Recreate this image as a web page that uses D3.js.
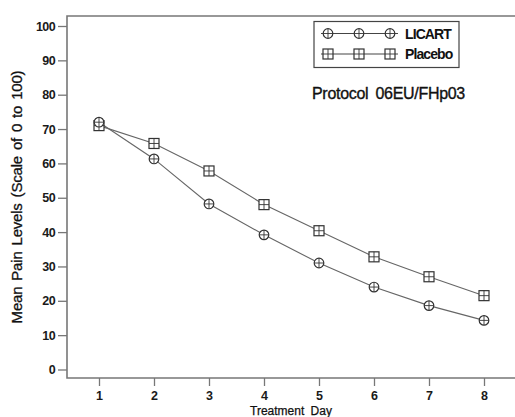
<!DOCTYPE html>
<html>
<head>
<meta charset="utf-8">
<script src="https://cdn.jsdelivr.net/npm/d3@7"></script>
<style>
  body { margin: 0; background: #fff; }
  svg { display: block; font-family: "Liberation Sans", Arial, sans-serif; }
</style>
</head>
<body>
<div class="pain-chart"></div>
<script>
// mean pain levels by treatment day
const days = [1, 2, 3, 4, 5, 6, 7, 8];
const licart = [72, 61.3, 48.2, 39.2, 31.0, 24.0, 18.6, 14.3];
const placebo = [71, 65.8, 57.8, 48.0, 40.4, 32.8, 27.0, 21.5];
const yTicks = [0, 10, 20, 30, 40, 50, 60, 70, 80, 90, 100];

const width = 515;
const height = 417;
const svg = d3.select('.pain-chart')
    .append('svg')
    .attr('width', width)
    .attr('height', height);

const x = d3.scaleLinear().domain([1, 8]).range([99, 484]);
const y = d3.scaleLinear().domain([0, 100]).range([369.5, 26]);

const axisColor = '#777';

// y axis
const yAxis = svg.append('g')
    .attr('transform', 'translate(67,0)')
    .call(d3.axisLeft(y).tickValues(yTicks).tickSize(9).tickPadding(3));
yAxis.select('.domain').remove();
yAxis.selectAll('line').attr('stroke', axisColor).attr('stroke-width', 1.3);
yAxis.selectAll('text')
    .attr('font-size', 12.5)
    .attr('font-weight', 'bold')
    .attr('letter-spacing', -0.6)
    .attr('fill', '#1a1a1a')
    .attr('font-family', '"Liberation Sans", Arial, sans-serif');

// x axis
const xAxis = svg.append('g')
    .attr('transform', 'translate(0,378)')
    .call(d3.axisBottom(x).tickValues(days).tickFormat(d3.format('d')).tickSize(8).tickPadding(5));
xAxis.select('.domain').remove();
xAxis.selectAll('line').attr('stroke', axisColor).attr('stroke-width', 1.3);
xAxis.selectAll('text')
    .attr('font-size', 12.5)
    .attr('font-weight', 'bold')
    .attr('fill', '#1a1a1a')
    .attr('font-family', '"Liberation Sans", Arial, sans-serif');

// frame: left, top, bottom (right side runs off the picture)
svg.append('path')
    .attr('d', 'M515,16 H67 V378 H515')
    .attr('fill', 'none')
    .attr('stroke', axisColor)
    .attr('stroke-width', 1.6);

// series lines
const line = d3.line()
    .x((d, i) => x(days[i]))
    .y(d => y(d));

[licart, placebo].forEach(series => {
    svg.append('path')
        .datum(series)
        .attr('d', line)
        .attr('fill', 'none')
        .attr('stroke', '#666')
        .attr('stroke-width', 1.1);
});

const markColor = '#333';

function circleMark(g, cx, cy) {
    g.append('circle').attr('cx', cx).attr('cy', cy).attr('r', 4.8)
        .attr('fill', '#fff').attr('stroke', markColor).attr('stroke-width', 1.2);
    g.append('path')
        .attr('d', `M${cx - 4.8},${cy} H${cx + 4.8} M${cx},${cy - 4.8} V${cy + 4.8}`)
        .attr('stroke', markColor).attr('stroke-width', 0.9);
}

function squareMark(g, cx, cy) {
    g.append('rect').attr('x', cx - 5).attr('y', cy - 5).attr('width', 10).attr('height', 10)
        .attr('fill', '#fff').attr('stroke', markColor).attr('stroke-width', 1.2);
    g.append('path')
        .attr('d', `M${cx - 5},${cy} H${cx + 5} M${cx},${cy - 5} V${cy + 5}`)
        .attr('stroke', markColor).attr('stroke-width', 0.9);
}

const marks = svg.append('g');
placebo.forEach((v, i) => squareMark(marks, x(days[i]), y(v)));
licart.forEach((v, i) => circleMark(marks, x(days[i]), y(v)));

// legend
const legend = svg.append('g');
legend.append('rect')
    .attr('x', 314).attr('y', 21.5).attr('width', 145).attr('height', 46)
    .attr('fill', '#fff').attr('stroke', '#444').attr('stroke-width', 1.2);

const legendItems = [
    { name: 'LICART', mark: circleMark, y: 33.5 },
    { name: 'Placebo', mark: squareMark, y: 54 }
];
legendItems.forEach(item => {
    legend.append('line')
        .attr('x1', 321).attr('x2', 398)
        .attr('y1', item.y).attr('y2', item.y)
        .attr('stroke', '#444').attr('stroke-width', 1.1);
    [328, 359, 390].forEach(mx => item.mark(legend, mx, item.y));
    legend.append('text')
        .attr('x', 405).attr('y', item.y + 5)
        .attr('font-size', 14)
        .attr('font-weight', 'bold')
        .attr('letter-spacing', -0.9)
        .attr('fill', '#111')
        .text(item.name);
});

// protocol note
svg.append('text')
    .attr('x', 312).attr('y', 99)
    .attr('font-size', 16)
    .attr('letter-spacing', -0.3)
    .attr('word-spacing', 3)
    .attr('fill', '#111')
    .attr('stroke', '#111')
    .attr('stroke-width', 0.35)
    .text('Protocol 06EU/FHp03');

// axis titles
svg.append('text')
    .attr('transform', 'translate(22,197) rotate(-90)')
    .attr('text-anchor', 'middle')
    .attr('font-size', 15)
    .attr('letter-spacing', -0.2)
    .attr('word-spacing', 2)
    .attr('fill', '#111')
    .attr('stroke', '#111')
    .attr('stroke-width', 0.3)
    .text('Mean Pain Levels (Scale of 0 to 100)');

svg.append('text')
    .attr('x', 291).attr('y', 414.5)
    .attr('text-anchor', 'middle')
    .attr('font-size', 12)
    .attr('word-spacing', 3)
    .attr('fill', '#111')
    .attr('stroke', '#111')
    .attr('stroke-width', 0.25)
    .text('Treatment Day');
</script>
</body>
</html>
